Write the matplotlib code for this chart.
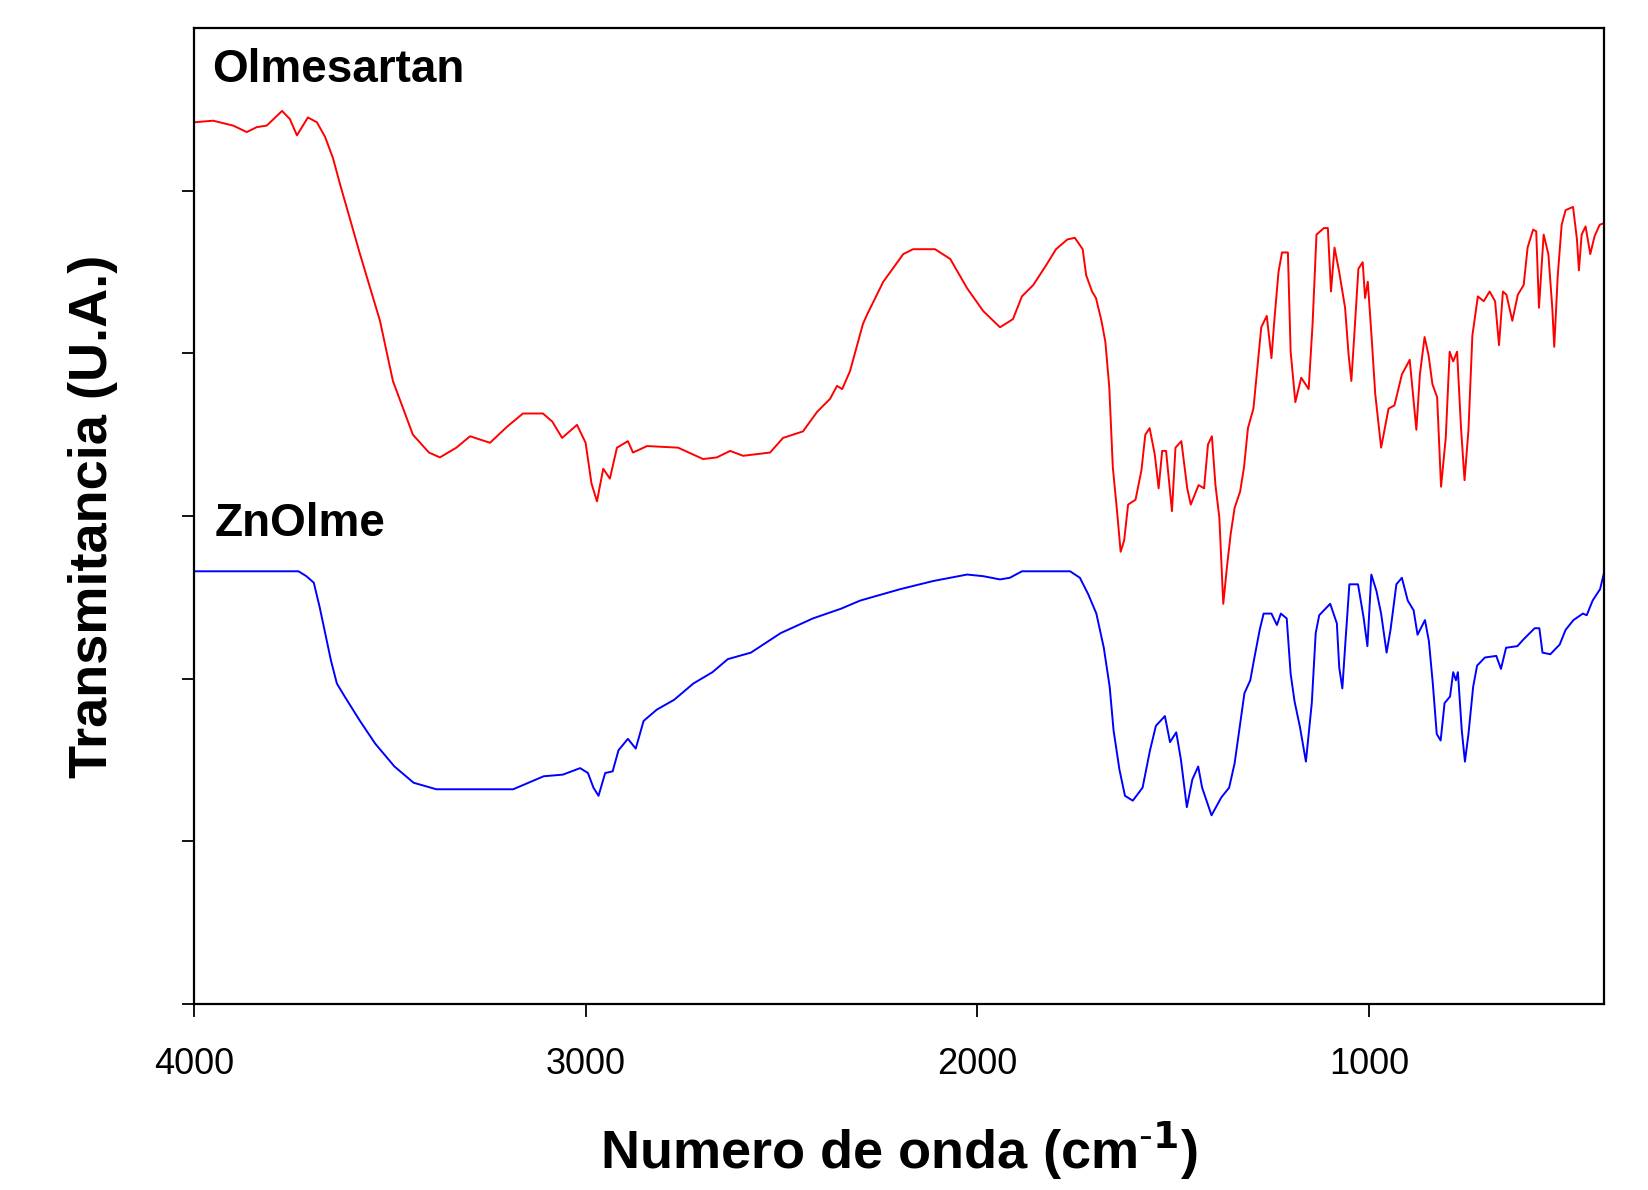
import matplotlib
matplotlib.use('Agg')
import matplotlib.pyplot as plt

# Olmesartan spectrum (red)
olme_wn = [4000, 3951, 3900, 3865, 3840, 3814, 3775, 3755, 3737, 3709, 3686, 3665, 3645, 3627,
           3576, 3525, 3492, 3441, 3400, 3372, 3330, 3295, 3244, 3200, 3160, 3109, 3085, 3060,
           3022, 3000, 2985, 2971, 2955, 2938, 2920, 2892, 2879, 2843, 2764, 2700, 2665, 2631,
           2598, 2529, 2496, 2445, 2409, 2376, 2358, 2345, 2325, 2292, 2281, 2240, 2189, 2164,
           2108, 2069, 2026, 1985, 1942, 1909, 1886, 1857, 1822, 1799, 1770, 1751, 1731, 1722,
           1707, 1697, 1683, 1673, 1663, 1654, 1644, 1634, 1625, 1615, 1596, 1581, 1571, 1560,
           1547, 1537, 1528, 1518, 1503, 1494, 1479, 1464, 1455, 1435, 1421, 1411, 1401, 1392,
           1382, 1372, 1362, 1353, 1343, 1329, 1319, 1309, 1295, 1285, 1275, 1261, 1249, 1241,
           1231, 1222, 1207, 1200, 1188, 1173, 1154, 1144, 1134, 1115, 1105, 1097, 1088, 1076,
           1061, 1052, 1045, 1037, 1027, 1016, 1010, 1003, 993, 984, 969, 950, 935, 916, 896,
           887, 879, 870, 858, 848, 838, 826, 816, 804, 794, 785, 775, 765, 756, 746, 736, 722,
           707, 692, 678, 668, 658, 649, 634, 620, 605, 595, 581, 573, 566, 554, 542, 532, 527,
           518, 508, 498, 479, 469, 464, 457, 447, 435, 424, 411, 400]
olme_t = [5.42, 5.43, 5.40, 5.36, 5.39, 5.40, 5.49, 5.44, 5.34, 5.45, 5.42, 5.33, 5.20, 5.04,
          4.61, 4.20, 3.83, 3.50, 3.39, 3.36, 3.42, 3.49, 3.45, 3.55, 3.63, 3.63, 3.58, 3.48,
          3.56, 3.45, 3.20, 3.09, 3.29, 3.23, 3.42, 3.46, 3.39, 3.43, 3.42, 3.35, 3.36, 3.40,
          3.37, 3.39, 3.48, 3.52, 3.64, 3.72, 3.80, 3.78, 3.89, 4.18, 4.24, 4.44, 4.61, 4.64,
          4.64, 4.58, 4.40, 4.26, 4.16, 4.21, 4.35, 4.42, 4.55, 4.64, 4.70, 4.71, 4.64, 4.48,
          4.38, 4.34, 4.20, 4.07, 3.79, 3.30, 3.05, 2.78, 2.85, 3.07, 3.10, 3.28, 3.50, 3.54,
          3.38, 3.17, 3.40, 3.40, 3.03, 3.42, 3.46, 3.17, 3.07, 3.19, 3.17, 3.44, 3.49, 3.19,
          2.99, 2.46, 2.70, 2.89, 3.05, 3.15, 3.30, 3.54, 3.66, 3.91, 4.16, 4.23, 3.97, 4.22,
          4.50, 4.62, 4.62, 4.01, 3.70, 3.85, 3.78, 4.18, 4.73, 4.77, 4.77, 4.38, 4.65, 4.50,
          4.28, 3.99, 3.83, 4.13, 4.52, 4.56, 4.34, 4.44, 4.09, 3.75, 3.42, 3.66, 3.68, 3.87, 3.96,
          3.73, 3.53, 3.87, 4.10, 3.99, 3.81, 3.73, 3.18, 3.48, 4.01, 3.95, 4.01, 3.54, 3.22, 3.53, 4.11, 4.35,
          4.32, 4.38, 4.32, 4.05, 4.38, 4.36, 4.20, 4.36, 4.42, 4.65, 4.76, 4.75, 4.28, 4.73, 4.61, 4.28, 4.04,
          4.48, 4.79, 4.88, 4.90, 4.70, 4.51, 4.73, 4.78, 4.61, 4.72, 4.79, 4.80]

# ZnOlme spectrum (blue)
zn_wn = [4000, 3733, 3713, 3694, 3679, 3664, 3650, 3635, 3615, 3576, 3537, 3488, 3439, 3381,
         3185, 3107, 3058, 3014, 2994, 2980, 2967, 2950, 2931, 2916, 2892, 2872, 2852, 2818,
         2774, 2725, 2676, 2637, 2578, 2502, 2420, 2348, 2299, 2197, 2113, 2026, 1985, 1942,
         1917, 1886, 1763, 1738, 1717, 1696, 1677, 1662, 1652, 1637, 1623, 1603, 1578, 1559,
         1544, 1521, 1508, 1492, 1480, 1465, 1451, 1436, 1426, 1402, 1377, 1357, 1343, 1328,
         1318, 1303, 1294, 1279, 1269, 1249, 1235, 1225, 1210, 1200, 1190, 1176, 1161, 1146,
         1136, 1127, 1115, 1099, 1082, 1076, 1068, 1060, 1050, 1028, 1014, 1004, 994, 981, 969,
         955, 945, 930, 916, 901, 886, 876, 857, 847, 837, 827, 817, 807, 793, 785, 778, 773,
         763, 755, 746, 734, 724, 704, 675, 663, 650, 621, 606, 577, 565, 557, 537, 513, 498,
         478, 454, 444, 429, 410, 400]
zn_t = [2.66, 2.66, 2.63, 2.59, 2.44, 2.27, 2.11, 1.97, 1.89, 1.74, 1.60, 1.46, 1.36, 1.32,
        1.32, 1.40, 1.41, 1.45, 1.42, 1.33, 1.28, 1.42, 1.43, 1.56, 1.63, 1.57, 1.74, 1.81,
        1.87, 1.97, 2.04, 2.12, 2.16, 2.28, 2.37, 2.43, 2.48, 2.55, 2.60, 2.64, 2.63, 2.61,
        2.62, 2.66, 2.66, 2.62, 2.52, 2.40, 2.19, 1.95, 1.68, 1.44, 1.28, 1.25, 1.33, 1.56,
        1.71, 1.77, 1.61, 1.67, 1.50, 1.21, 1.38, 1.46, 1.33, 1.16, 1.27, 1.33, 1.48, 1.74,
        1.91, 1.99, 2.11, 2.30, 2.40, 2.40, 2.33, 2.40, 2.37, 2.03, 1.86, 1.70, 1.49, 1.85,
        2.28, 2.39, 2.42, 2.46, 2.34, 2.07, 1.94, 2.23, 2.58, 2.58, 2.38, 2.20, 2.64, 2.54, 2.40,
        2.16, 2.30, 2.58, 2.62, 2.48, 2.42, 2.27, 2.36, 2.23, 1.97, 1.66, 1.62, 1.85, 1.89, 2.04, 1.99, 2.04,
        1.68, 1.49, 1.66, 1.95, 2.08, 2.13, 2.14, 2.06, 2.19, 2.20, 2.24, 2.31, 2.31, 2.16, 2.15, 2.21, 2.30,
        2.36, 2.40, 2.39, 2.48, 2.55, 2.65]

x_ticks = [4000, 3000, 2000, 1000]
x_tick_labels = ['4000', '3000', '2000', '1000']

plt.rcParams['font.family'] = 'Liberation Sans'

fig = plt.figure(figsize=(16.49, 11.90), dpi=100)
ax = fig.add_axes([0.1176, 0.1563, 0.8551, 0.8202])

ax.plot(olme_wn, olme_t, color='#ff0000', lw=1.4)
ax.plot(zn_wn, zn_t, color='#0000ff', lw=1.4)

ax.set_xlim(4000, 400)
ax.set_ylim(0, 6)
ax.set_xticks(x_ticks)
ax.set_xticklabels(x_tick_labels, fontsize=26)
ax.set_yticks([0, 1, 2, 3, 4, 5])
ax.set_yticklabels([])
ax.tick_params(axis='x', direction='out', length=9, width=1.3, pad=22)
ax.tick_params(axis='y', direction='out', length=9, width=1.3)
for sp in ax.spines.values():
    sp.set_linewidth(1.6)

ax.text(0.013, 0.957, 'Olmesartan', transform=ax.transAxes, fontsize=33,
        fontweight='bold', ha='left', va='center')
ax.text(0.015, 0.492, 'ZnOlme', transform=ax.transAxes, fontsize=33,
        fontweight='bold', ha='left', va='center')

ax.set_xlabel(r'Numero de onda (cm$^{\mathbf{\text{-}1}}$)', fontsize=39, fontweight='bold')
ax.xaxis.set_label_coords(0.5, -0.118)
ax.set_ylabel('Transmitancia (U.A.)', fontsize=39, fontweight='bold')
ax.yaxis.set_label_coords(-0.054, 0.5)

fig.savefig('out.png', dpi=100)
